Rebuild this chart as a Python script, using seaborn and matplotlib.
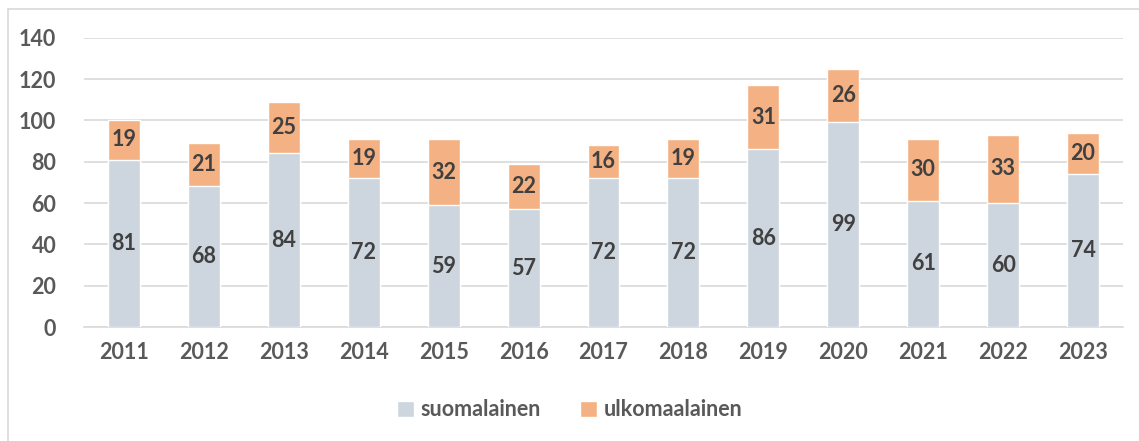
import matplotlib
matplotlib.use("Agg")
import matplotlib.pyplot as plt
import seaborn as sns
import pandas as pd
from matplotlib.lines import Line2D
from matplotlib.patches import Patch

vuodet = ["2011", "2012", "2013", "2014", "2015", "2016", "2017",
          "2018", "2019", "2020", "2021", "2022", "2023"]
suomalainen = [81, 68, 84, 72, 59, 57, 72, 72, 86, 99, 61, 60, 74]
ulkomaalainen = [19, 21, 25, 19, 32, 22, 16, 19, 31, 26, 30, 33, 20]

VARI_SUOMI = "#cdd5df"
VARI_ULKO = "#f4b183"
TEKSTI = "#404040"
AKSELI = "#595959"
KOKO = 15.5

sns.set_theme(style="white")
plt.rcParams["font.family"] = ["Lato", "DejaVu Sans"]

df = pd.DataFrame({"vuosi": vuodet, "suomalainen": suomalainen,
                   "ulkomaalainen": ulkomaalainen})
df["yhteensa"] = df["suomalainen"] + df["ulkomaalainen"]

fig = plt.figure(figsize=(11.39, 4.41), dpi=100)
ax = fig.add_axes([84 / 1139, 1 - 327 / 441, 1039 / 1139, (327 - 37.7) / 441])

# pinottu pylväs: kokonaismäärä oranssina, suomalaiset harmaana päälle
sns.barplot(data=df, x="vuosi", y="yhteensa", color=VARI_ULKO, width=0.4,
            saturation=1, ax=ax, zorder=2)
sns.barplot(data=df, x="vuosi", y="suomalainen", color=VARI_SUOMI, width=0.4,
            saturation=1, ax=ax, zorder=3)

for i, rivi in df.iterrows():
    ax.text(i, rivi["suomalainen"] / 2, str(rivi["suomalainen"]), ha="center",
            va="center", fontsize=KOKO, fontweight="bold", color=TEKSTI, zorder=4)
    ax.text(i, rivi["suomalainen"] + rivi["ulkomaalainen"] / 2,
            str(rivi["ulkomaalainen"]), ha="center", va="center",
            fontsize=KOKO, fontweight="bold", color=TEKSTI, zorder=4)

ax.set_xlim(-0.5, 12.5)
ax.set_ylim(0, 140)
ax.set_yticks(range(0, 141, 20))
ax.yaxis.grid(True, color="#d9d9d9", linewidth=1.2, zorder=0)
ax.set_axisbelow(True)
for s in ["top", "right", "left"]:
    ax.spines[s].set_visible(False)
ax.spines["bottom"].set_color("#d9d9d9")
ax.spines["bottom"].set_linewidth(1.2)
ax.tick_params(axis="both", length=0, labelsize=KOKO, labelcolor=AKSELI)
ax.tick_params(axis="y", pad=20)
ax.tick_params(axis="x", pad=11)
for t in ax.get_xticklabels() + ax.get_yticklabels():
    t.set_fontweight("bold")
ax.set_xlabel("")
ax.set_ylabel("")

kahvat = [Patch(facecolor=VARI_SUOMI, label="suomalainen"),
          Patch(facecolor=VARI_ULKO, label="ulkomaalainen")]
leg = fig.legend(handles=kahvat, loc="center", bbox_to_anchor=(0.5, 1 - 410 / 441),
                 ncol=2, frameon=False, handlelength=0.8, handleheight=0.8,
                 handletextpad=0.3, columnspacing=1.8,
                 prop={"size": KOKO, "weight": "bold"})
for t in leg.get_texts():
    t.set_color(AKSELI)

# kaavion kehys
fig.add_artist(Line2D([8 / 1139, 1.0], [1 - 9 / 441, 1 - 9 / 441],
                      color="#d9d9d9", linewidth=1.2, transform=fig.transFigure))
fig.add_artist(Line2D([8 / 1139, 8 / 1139], [0.0, 1 - 9 / 441],
                      color="#d9d9d9", linewidth=1.2, transform=fig.transFigure))

fig.savefig("out.png", dpi=100)
